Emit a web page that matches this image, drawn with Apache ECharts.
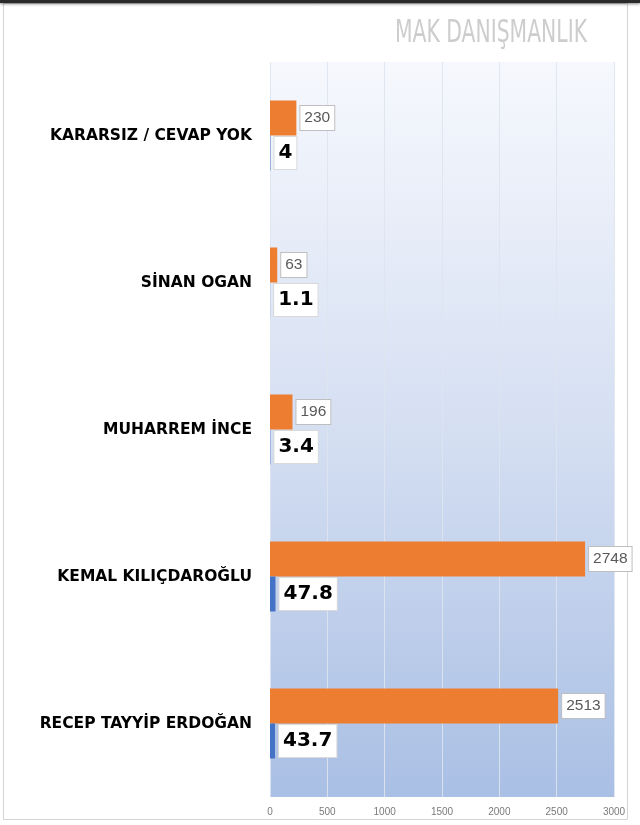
<!DOCTYPE html>
<html>
<head>
<meta charset="utf-8">
<script src="https://cdn.jsdelivr.net/npm/echarts@6/dist/echarts.min.js"></script>
<style>html,body{margin:0;padding:0;background:#fff}#c{width:640px;height:825px}</style>
</head>
<body>
<div id="c"></div>
<script>
const categories = ['RECEP TAYYİP ERDOĞAN', 'KEMAL KILIÇDAROĞLU', 'MUHARREM İNCE', 'SİNAN OGAN', 'KARARSIZ / CEVAP YOK'];
const votes = [2513, 2748, 196, 63, 230];
const percents = [43.7, 47.8, 3.4, 1.1, 4];
const titleText = 'MAK DANIŞMANLIK';
const axisMin = 0, axisMax = 3000, axisStep = 500;

const chart = echarts.init(document.getElementById('c'), null, {renderer: 'canvas'});
const narrow = '"Liberation Sans Narrow", "DejaVu Sans Condensed", "Roboto Condensed", "Liberation Sans", sans-serif';

chart.setOption({
  animation: false,
  backgroundColor: '#ffffff',
  graphic: [
    {type: 'rect', z: -10, shape: {x: 3.5, y: 3.5, width: 624, height: 816}, style: {fill: '#fff', stroke: '#d4d4d4', lineWidth: 1}},
    {type: 'rect', z: 10, shape: {x: 0, y: 0, width: 640, height: 3}, style: {fill: '#2a2a2a', shadowColor: 'rgba(0,0,0,0.5)', shadowBlur: 3, shadowOffsetY: 1}},
    {type: 'text', z: 10, x: 491, y: 34, scaleX: 0.87, scaleY: 1.2, originX: 0, originY: 0,
      style: {text: titleText, font: '26px ' + narrow, fill: '#cdcdcd', align: 'center', verticalAlign: 'middle',
        shadowColor: 'rgba(0,0,0,0.35)', shadowBlur: 2, shadowOffsetX: 1, shadowOffsetY: 1}}
  ],
  grid: {left: 270, right: 26, top: 62, bottom: 28, show: true, borderWidth: 0,
    backgroundColor: new echarts.graphic.LinearGradient(0, 0, 0, 1, [
      {offset: 0, color: '#f6f8fd'},
      {offset: 0.5, color: '#d5dff2'},
      {offset: 1, color: '#a9bfe4'}
    ])},
  xAxis: {type: 'value', min: axisMin, max: axisMax, interval: axisStep,
    axisLine: {show: false}, axisTick: {show: false},
    splitLine: {show: true, lineStyle: {color: 'rgba(222,228,238,0.9)', width: 1}},
    axisLabel: {color: '#7a7a7a', fontSize: 10, margin: 10, fontFamily: '"Liberation Sans", sans-serif',
      formatter: v => String(v)}},
  yAxis: {type: 'category', data: categories,
    axisLine: {show: false}, axisTick: {show: false}, splitLine: {show: false},
    axisLabel: {color: '#000', fontSize: 15.5, fontWeight: 'bold', fontFamily: '"DejaVu Sans", sans-serif', margin: 18}},
  series: [
    {name: 'Oy', type: 'bar', data: votes, barWidth: 35, barGap: '0%',
      itemStyle: {color: '#ed7d31'},
      label: {show: true, position: 'right', distance: 4, color: '#595959', fontSize: 15.5, fontFamily: '"Liberation Sans", sans-serif',
        lineHeight: 17, backgroundColor: '#fff', borderColor: '#bfbfbf', borderWidth: 1, padding: [4, 4, 3, 4]}},
    {name: 'Yüzde', type: 'bar', data: percents, barWidth: 35, barGap: '0%',
      itemStyle: {color: '#4472c4'},
      label: {show: true, position: 'right', distance: 4, color: '#000', fontSize: 20, fontWeight: 'bold',
        fontFamily: '"DejaVu Sans", sans-serif', lineHeight: 22, backgroundColor: '#fff', borderColor: '#d9d9d9', borderWidth: 1,
        padding: [5, 4, 5, 4], formatter: p => String(p.value)}}
  ]
});
</script>
</body>
</html>
